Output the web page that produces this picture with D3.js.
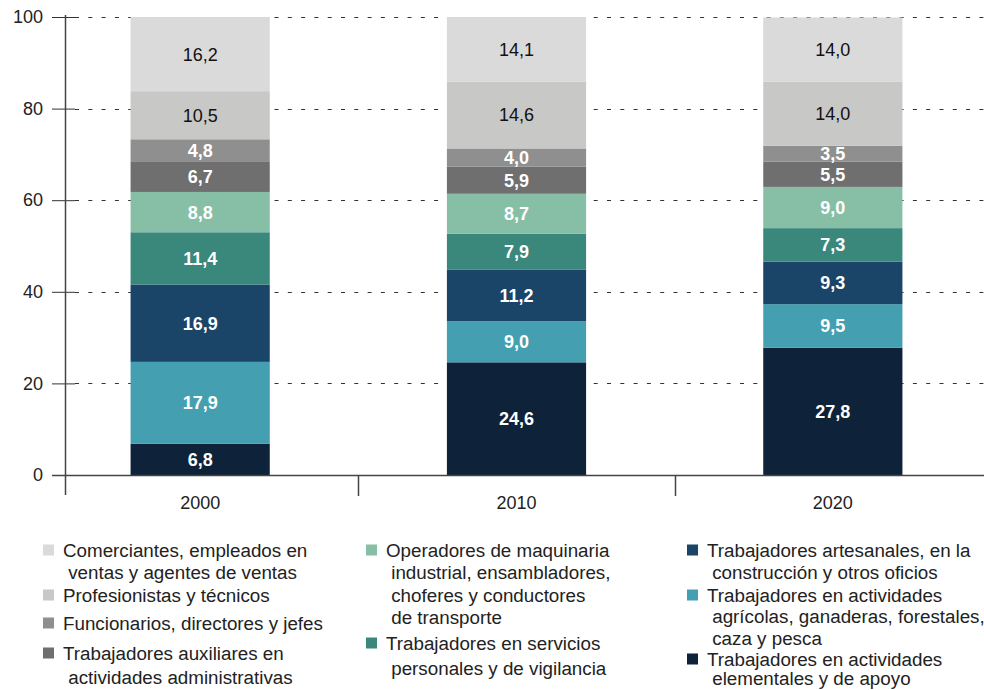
<!DOCTYPE html>
<html>
<head>
<meta charset="utf-8">
<script src="https://cdn.jsdelivr.net/npm/d3@7"></script>
<style>
  body { margin: 0; background: #fff; }
  svg { font-family: "Liberation Sans", Arial, sans-serif; }
</style>
</head>
<body>
<div id="chart"></div>
<script>
// years on the x axis
var years = ["2000", "2010", "2020"];

// series, bottom to top of each stack
var seriesKeys = ["elementales", "agricolas", "artesanales", "servicios", "operadores",
                  "auxiliares", "funcionarios", "profesionistas", "comerciantes"];

var elementales    = [6.8, 24.6, 27.8];
var agricolas      = [17.9, 9.0, 9.5];
var artesanales    = [16.9, 11.2, 9.3];
var servicios      = [11.4, 7.9, 7.3];
var operadores     = [8.8, 8.7, 9.0];
var auxiliares     = [6.7, 5.9, 5.5];
var funcionarios   = [4.8, 4.0, 3.5];
var profesionistas = [10.5, 14.6, 14.0];
var comerciantes   = [16.2, 14.1, 14.0];

var yTicks = [0, 20, 40, 60, 80, 100];

var colors = {
  elementales: "#0e2339", agricolas: "#44a0b0", artesanales: "#1b4469",
  servicios: "#3a877b", operadores: "#87bfa6", auxiliares: "#6f6f6f",
  funcionarios: "#8f8f8f", profesionistas: "#c8c8c6", comerciantes: "#dadada"
};
var darkLabel = { profesionistas: true, comerciantes: true };

// legend text, one line per entry
var legendLabels = {
  comerciantes: ["Comerciantes, empleados en", " ventas y agentes de ventas"],
  profesionistas: ["Profesionistas y técnicos"],
  funcionarios: ["Funcionarios, directores y jefes"],
  auxiliares: ["Trabajadores auxiliares en", " actividades administrativas"],
  operadores: ["Operadores de maquinaria", " industrial, ensambladores,", " choferes y conductores", " de transporte"],
  servicios: ["Trabajadores en servicios", " personales y de vigilancia"],
  artesanales: ["Trabajadores artesanales, en la", " construcción y otros oficios"],
  agricolas: ["Trabajadores en actividades", " agrícolas, ganaderas, forestales,", " caza y pesca"],
  elementales: ["Trabajadores en actividades", " elementales y de apoyo"]
};

var seriesData = {
  elementales: elementales, agricolas: agricolas, artesanales: artesanales,
  servicios: servicios, operadores: operadores, auxiliares: auxiliares,
  funcionarios: funcionarios, profesionistas: profesionistas, comerciantes: comerciantes
};

var table = years.map(function(y, i) {
  var row = { year: y };
  seriesKeys.forEach(function(k) { row[k] = seriesData[k][i]; });
  return row;
});

var width = 984, height = 690;
var svg = d3.select("#chart").append("svg")
    .attr("width", width)
    .attr("height", height);

var x = d3.scaleBand().domain(years).range([42, 991]).paddingInner(0.56).paddingOuter(0.28);
var y = d3.scaleLinear().domain([0, 100]).range([475, 17]);

// dashed gridlines
svg.append("g").selectAll("line")
    .data(yTicks.filter(function(d) { return d > 0; }))
  .enter().append("line")
    .attr("x1", 75).attr("x2", width)
    .attr("y1", function(d) { return Math.round(y(d)) + 0.5; })
    .attr("y2", function(d) { return Math.round(y(d)) + 0.5; })
    .attr("stroke", "#333")
    .attr("stroke-width", 1)
    .attr("stroke-dasharray", "4,9.3");

// stacked bars
var stacked = d3.stack().keys(seriesKeys)(table);

var layers = svg.append("g").selectAll("g")
    .data(stacked)
  .enter().append("g")
    .attr("fill", function(d) { return colors[d.key]; });

layers.selectAll("rect")
    .data(function(d) { return d; })
  .enter().append("rect")
    .attr("x", function(d) { return x(d.data.year); })
    .attr("width", x.bandwidth())
    .attr("y", function(d) { return y(d[1]); })
    .attr("height", function(d) { return y(d[0]) - y(d[1]); });

layers.each(function(layer) {
  d3.select(this).selectAll("text")
      .data(layer)
    .enter().append("text")
      .attr("x", function(d) { return x(d.data.year) + x.bandwidth() / 2; })
      .attr("y", function(d) { return (y(d[0]) + y(d[1])) / 2; })
      .attr("dy", "0.36em")
      .attr("text-anchor", "middle")
      .style("font-size", "18px")
      .style("font-weight", darkLabel[layer.key] ? "normal" : "bold")
      .attr("fill", darkLabel[layer.key] ? "#111" : "#fff")
      .text(function(d) { return d3.format(".1f")(d.data[layer.key]).replace(".", ","); });
});

// y axis
var yAxis = d3.axisLeft(y).tickValues(yTicks).tickSize(23).tickPadding(9);
var gy = svg.append("g")
    .attr("transform", "translate(75,0)")
    .call(yAxis);
gy.select(".domain").remove();
gy.selectAll(".tick line").attr("stroke", "#333");
gy.selectAll(".tick text").style("font-size", "18px").attr("fill", "#222");

svg.append("line")
    .attr("x1", 65.5).attr("x2", 65.5)
    .attr("y1", 15).attr("y2", 495)
    .attr("stroke", "#444").attr("stroke-width", 1.5);

// x axis
svg.append("line")
    .attr("x1", 52).attr("x2", width)
    .attr("y1", 475.5).attr("y2", 475.5)
    .attr("stroke", "#444").attr("stroke-width", 1.5);

svg.append("g").selectAll("line")
    .data(years.slice(1))
  .enter().append("line")
    .attr("x1", function(d) { return Math.round(x(d) - x.step() * x.paddingInner() / 2) + 0.5; })
    .attr("x2", function(d) { return Math.round(x(d) - x.step() * x.paddingInner() / 2) + 0.5; })
    .attr("y1", 475).attr("y2", 496)
    .attr("stroke", "#444").attr("stroke-width", 1.5);

svg.append("g").selectAll("text")
    .data(years)
  .enter().append("text")
    .attr("x", function(d) { return x(d) + x.bandwidth() / 2; })
    .attr("y", 503)
    .attr("dy", "0.36em")
    .attr("text-anchor", "middle")
    .style("font-size", "18px")
    .attr("fill", "#222")
    .text(function(d) { return d; });

// legend
var legendLayout = [
  { key: "comerciantes",   x: 43,  y: 550, lh: 22 },
  { key: "profesionistas", x: 43,  y: 595, lh: 22 },
  { key: "funcionarios",   x: 43,  y: 623, lh: 22 },
  { key: "auxiliares",     x: 43,  y: 653, lh: 24 },
  { key: "operadores",     x: 366, y: 550, lh: 22.4 },
  { key: "servicios",      x: 366, y: 643, lh: 25 },
  { key: "artesanales",    x: 687, y: 550, lh: 22 },
  { key: "agricolas",      x: 687, y: 595, lh: 21.5 },
  { key: "elementales",    x: 687, y: 659, lh: 19 }
];

var legend = svg.append("g").selectAll("g")
    .data(legendLayout)
  .enter().append("g")
    .attr("transform", function(d) { return "translate(" + d.x + "," + d.y + ")"; });

legend.append("rect")
    .attr("x", 0).attr("y", -5.5)
    .attr("width", 11).attr("height", 11)
    .attr("fill", function(d) { return colors[d.key]; });

legend.each(function(item) {
  d3.select(this).selectAll("text")
      .data(legendLabels[item.key])
    .enter().append("text")
      .attr("x", 20)
      .attr("y", function(d, i) { return i * item.lh; })
      .attr("dy", "0.36em")
      .attr("xml:space", "preserve")
      .style("white-space", "pre")
      .style("font-size", "18.8px")
      .attr("fill", "#222")
      .text(function(d) { return d; });
});
</script>
</body>
</html>
